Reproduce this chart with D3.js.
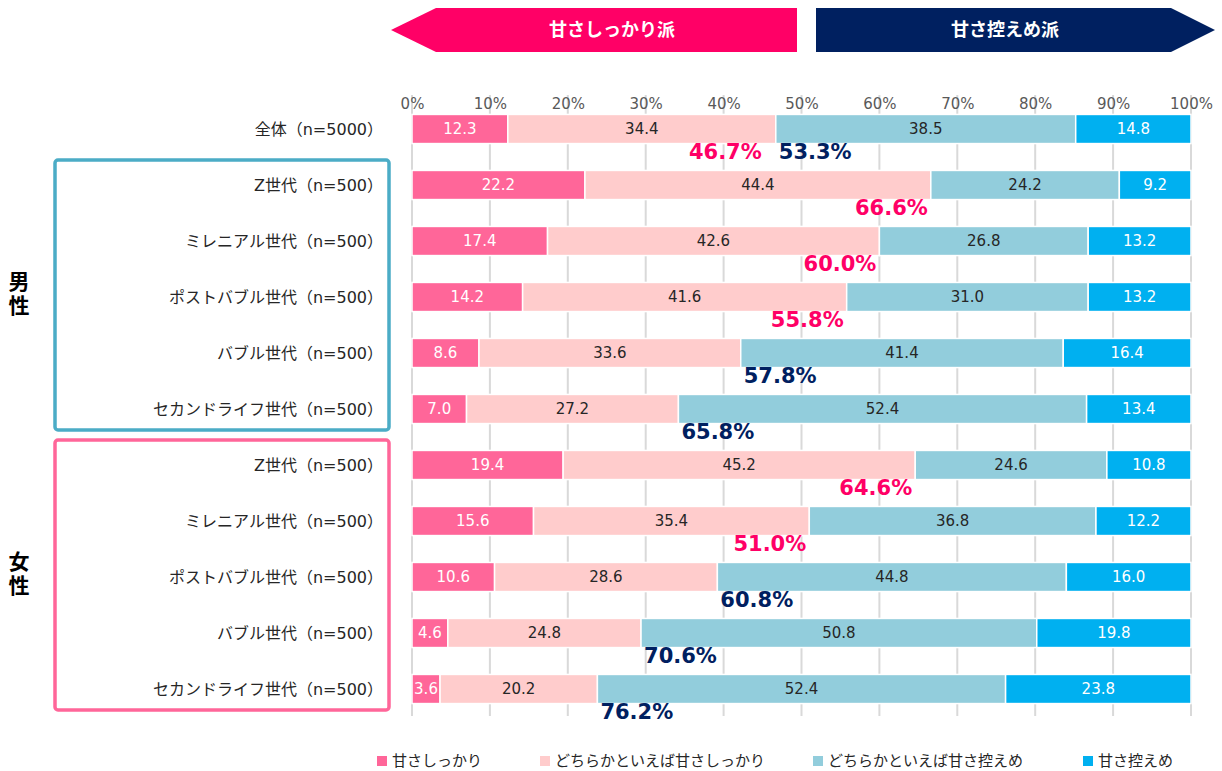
<!DOCTYPE html>
<html>
<head>
<meta charset="utf-8">
<script src="https://cdn.jsdelivr.net/npm/d3@7"></script>
<style>
  body { margin: 0; background: #fff; }
  svg { font-family: "DejaVu Sans", "Noto Sans CJK JP", sans-serif; }
</style>
</head>
<body>
<div id="chart"></div>
<script>
const categories = [
    "全体（n=5000）",
    "Z世代（n=500）", "ミレニアル世代（n=500）", "ポストバブル世代（n=500）", "バブル世代（n=500）", "セカンドライフ世代（n=500）",
    "Z世代（n=500） ", "ミレニアル世代（n=500） ", "ポストバブル世代（n=500） ", "バブル世代（n=500） ", "セカンドライフ世代（n=500） "
];
const seriesNames = ["甘さしっかり", "どちらかといえば甘さしっかり", "どちらかといえば甘さ控えめ", "甘さ控えめ"];
const sweetFirm = [12.3, 22.2, 17.4, 14.2, 8.6, 7.0, 19.4, 15.6, 10.6, 4.6, 3.6];
const sweetRather = [34.4, 44.4, 42.6, 41.6, 33.6, 27.2, 45.2, 35.4, 28.6, 24.8, 20.2];
const lightRather = [38.5, 24.2, 26.8, 31.0, 41.4, 52.4, 24.6, 36.8, 44.8, 50.8, 52.4];
const lightFirm = [14.8, 9.2, 13.2, 13.2, 16.4, 13.4, 10.8, 12.2, 16.0, 19.8, 23.8];
const sweetTotal = ["46.7%", "66.6%", "60.0%", "55.8%", "", "", "64.6%", "51.0%", "", "", ""];
const lightTotal = ["53.3%", "", "", "", "57.8%", "65.8%", "", "", "60.8%", "70.6%", "76.2%"];
const tickValues = [0, 10, 20, 30, 40, 50, 60, 70, 80, 90, 100];
const groups = [
    {label: "男性", first: 1, last: 5, color: "#4BACC6"},
    {label: "女性", first: 6, last: 10, color: "#FF6699"}
];

const colors = ["#FF6699", "#FFCCCC", "#92CDDC", "#00B0F0"];
const textColors = ["#ffffff", "#262626", "#262626", "#ffffff"];

const width = 1222, height = 771;
const svg = d3.select("#chart").append("svg")
    .attr("width", width)
    .attr("height", height);

const x = d3.scaleLinear().domain([0, 100]).range([412, 1191]);
const y = d3.scaleBand().domain(categories).range([101, 717]).paddingInner(0.48).paddingOuter(0.24);

// header arrows
const hy0 = 8, hy1 = 52, hm = 30;
svg.append("polygon")
    .attr("points", [[391, hm], [436, hy0], [797, hy0], [797, hy1], [436, hy1]].join(" "))
    .attr("fill", "#FF0066");
svg.append("polygon")
    .attr("points", [[816, hy0], [1171, hy0], [1215, hm], [1171, hy1], [816, hy1]].join(" "))
    .attr("fill", "#002060");
svg.append("text").attr("x", 612).attr("y", hm).attr("dy", "0.36em")
    .attr("text-anchor", "middle").attr("fill", "#fff")
    .style("font-family", "'Noto Sans CJK JP', sans-serif")
    .style("font-size", "18px").style("font-weight", "bold").text("甘さしっかり派");
svg.append("text").attr("x", 1005).attr("y", hm).attr("dy", "0.36em")
    .attr("text-anchor", "middle").attr("fill", "#fff")
    .style("font-family", "'Noto Sans CJK JP', sans-serif")
    .style("font-size", "18px").style("font-weight", "bold").text("甘さ控えめ派");

// gridlines
svg.append("g").selectAll("line")
    .data(tickValues)
    .enter()
    .append("line")
    .attr("x1", d => x(d)).attr("x2", d => x(d))
    .attr("y1", 95).attr("y2", 716)
    .attr("stroke", "#D9D9D9")
    .attr("stroke-width", 2);

// top axis
const axis = svg.append("g")
    .attr("transform", "translate(0,112)")
    .call(d3.axisTop(x).tickValues(tickValues).tickSize(0).tickPadding(3).tickFormat(d => d + "%"));
axis.select(".domain").remove();
axis.selectAll("text")
    .style("font-size", "15px")
    .style("font-family", "'DejaVu Sans', sans-serif")
    .attr("fill", "#595959");

// stacked bars
const rows = categories.map((c, i) => ({cat: c, vals: [sweetFirm[i], sweetRather[i], lightRather[i], lightFirm[i]]}));
const segs = [];
rows.forEach((r, i) => {
    let acc = 0;
    r.vals.forEach((v, k) => {
        segs.push({cat: r.cat, k: k, v: v, x0: acc, x1: acc + v});
        acc += v;
    });
});

svg.append("g").selectAll("rect")
    .data(segs)
    .enter()
    .append("rect")
    .attr("x", d => x(d.x0))
    .attr("y", d => y(d.cat))
    .attr("width", d => x(d.x1) - x(d.x0))
    .attr("height", y.bandwidth())
    .attr("fill", d => colors[d.k])
    .attr("stroke", "#fff")
    .attr("stroke-width", 1.5);

svg.append("g").selectAll("text")
    .data(segs)
    .enter()
    .append("text")
    .attr("x", d => (x(d.x0) + x(d.x1)) / 2)
    .attr("y", d => y(d.cat) + y.bandwidth() / 2)
    .attr("dy", "0.36em")
    .attr("text-anchor", "middle")
    .attr("fill", d => textColors[d.k])
    .style("font-size", "15px")
    .text(d => d.v.toFixed(1));

// totals under the bars
categories.forEach((c, i) => {
    const bx = x(sweetFirm[i] + sweetRather[i]);
    const by = y(c) + y.bandwidth() + 15;
    if (sweetTotal[i]) {
        // when both totals are shown the pink one sits a little further left
        const gap = lightTotal[i] ? 14 : 3;
        svg.append("text").attr("x", bx - gap).attr("y", by)
            .attr("text-anchor", "end").attr("fill", "#FF0066")
            .style("font-size", "21px").style("font-weight", "bold")
            .text(sweetTotal[i]);
    }
    if (lightTotal[i]) {
        svg.append("text").attr("x", bx + 3).attr("y", by)
            .attr("text-anchor", "start").attr("fill", "#002060")
            .style("font-size", "21px").style("font-weight", "bold")
            .text(lightTotal[i]);
    }
});

// category labels
svg.append("g").selectAll("text")
    .data(categories)
    .enter()
    .append("text")
    .attr("x", 383)
    .attr("y", d => y(d) + y.bandwidth() / 2)
    .attr("dy", "0.36em")
    .attr("text-anchor", "end")
    .attr("fill", "#262626")
    .style("font-size", "16px")
    .text(d => d.trim());

// group boxes
groups.forEach(g => {
    const top = y(categories[g.first]) + y.bandwidth() / 2 - 25;
    const bottom = y(categories[g.last]) + y.bandwidth() / 2 + 21;
    svg.append("rect")
        .attr("x", 55).attr("y", top)
        .attr("width", 334).attr("height", bottom - top)
        .attr("rx", 3)
        .attr("fill", "none")
        .attr("stroke", g.color)
        .attr("stroke-width", 3.5);
    const mid = (top + bottom) / 2;
    svg.append("text")
        .attr("x", 19).attr("y", mid)
        .attr("writing-mode", "tb")
        .attr("text-anchor", "middle")
        .attr("fill", "#000")
        .style("font-family", "'Noto Sans CJK JP', sans-serif")
        .style("font-size", "21px").style("font-weight", "bold")
        .style("letter-spacing", "3px")
        .text(g.label);
});

// legend
const legendX = [377, 540, 813, 1083];
const legend = svg.append("g").selectAll("g")
    .data(seriesNames)
    .enter()
    .append("g")
    .attr("transform", (d, i) => `translate(${legendX[i]},761)`);
legend.append("rect")
    .attr("x", 0).attr("y", -5)
    .attr("width", 10).attr("height", 10)
    .attr("fill", (d, i) => colors[i]);
legend.append("text")
    .attr("x", 15).attr("y", 0).attr("dy", "0.36em")
    .attr("fill", "#262626")
    .style("font-family", "'Noto Sans CJK JP', sans-serif")
    .style("font-size", "15px")
    .text(d => d);
</script>
</body>
</html>
